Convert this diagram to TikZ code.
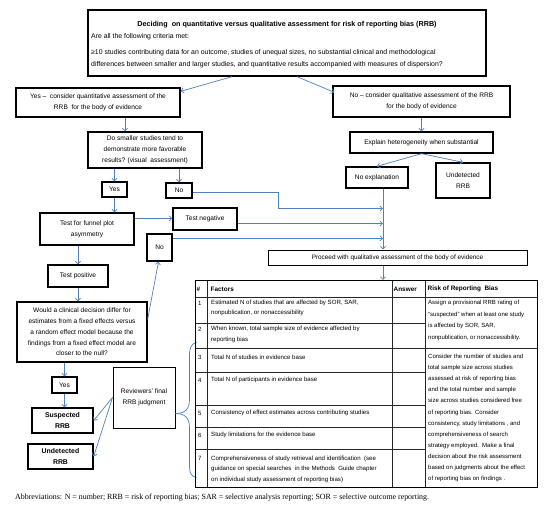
\documentclass[tikz,border=0pt]{standalone}
\usepackage{fontspec}
\setmainfont{Liberation Sans}
\newfontfamily\abbrfont{Liberation Serif}
\usetikzlibrary{arrows.meta,calc}
\definecolor{arrblue}{RGB}{79,129,189}
\begin{document}
\begin{tikzpicture}[x=1pt,y=-1pt,
  box/.style={draw=black,line width=1.3pt,fill=white,inner sep=1pt,align=center,
    font=\fontsize{6.6}{10.8}\selectfont},
  arr/.style={draw=arrblue,line width=0.7pt,-{Straight Barb[length=2.6pt,width=5pt]}},
  ln/.style={draw=arrblue,line width=0.7pt},
  touter/.style={draw=black,line width=0.9pt},
  tline/.style={draw=black!85,line width=0.6pt},
  ttext/.style={anchor=west,inner sep=0pt,align=left,font=\fontsize{6.1}{10.3}\selectfont},
  thead/.style={anchor=west,inner sep=0pt,font=\fontsize{6.4}{8}\selectfont\bfseries},
  plain/.style={anchor=west,inner sep=0pt,align=left,font=\fontsize{6.9}{12}\selectfont},
]
\useasboundingbox (0,0) rectangle (550,509);
\fill[white] (0,0) rectangle (550,509);

% ---------- top box ----------
\node[box,minimum width=398pt,minimum height=66pt] (top) at (287,43) {};
\node[inner sep=0pt,font=\fontsize{7.2}{8}\selectfont\bfseries] (toptitle) at (287,25)
  {Deciding\ \ on quantitative versus qualitative assessment for risk of reporting bias (RRB)};
\node[plain] (crit1) at (91,37) {Are all the following criteria met:};
\node[plain] (crit2) at (91,59) {≥10 studies contributing data for an outcome, studies of unequal sizes, no substantial clinical and methodological\\differences between smaller and larger studies, and quantitative results accompanied with measures of dispersion?};

% ---------- left branch ----------
\node[box,minimum width=164pt,minimum height=29pt] (yesq) at (98,102.5)
  {Yes --\ \ consider quantitative assessment of the\\RRB\ \ for the body of evidence};
\node[box,minimum width=114pt,minimum height=36pt] (q) at (145,150)
  {Do smaller studies tend to\\demonstrate more favorable\\results? (visual\ \ assessment)};
\node[box,minimum width=25pt,minimum height=15pt] (yes1) at (114.5,189.5) {Yes};
\node[box,minimum width=26pt,minimum height=15pt] (no1) at (179,190.5) {No};
\node[box,minimum width=94pt,minimum height=32pt] (funnel) at (87,229)
  {Test for funnel plot\\asymmetry};
\node[box,minimum width=64pt,minimum height=22pt] (testneg) at (205,219) {Test negative};
\node[box,minimum width=25pt,minimum height=27pt] (no2) at (159.5,247.5) {No};
\node[box,minimum width=60pt,minimum height=22pt] (testpos) at (78,276) {Test positive};
\node[box,minimum width=130pt,minimum height=60pt] (would) at (82,332)
  {Would a clinical decision differ for\\estimates from a fixed effects versus\\a random effect model because the\\findings from a fixed effect model are\\closer to the null?};
\node[box,minimum width=25pt,minimum height=16pt] (yes2) at (64.5,385) {Yes};
\node[box,minimum width=61pt,minimum height=25pt,font=\fontsize{6.9}{10.8}\selectfont\bfseries] (susp) at (62.5,420.5) {Suspected\\RRB};
\node[box,minimum width=65pt,minimum height=25pt,font=\fontsize{6.9}{10.8}\selectfont\bfseries] (undet) at (60.5,456.5) {Undetected\\RRB};
\node[box,line width=1pt,minimum width=62pt,minimum height=61pt] (rev) at (144,397.5) {Reviewers' final\\RRB judgment};

% ---------- right branch ----------
\node[box,minimum width=177pt,minimum height=31pt] (noq) at (421.5,101.5)
  {No -- consider qualitative assessment of the RRB\\for the body of evidence};
\node[box,minimum width=143pt,minimum height=21pt] (explain) at (421.5,142.5)
  {Explain heterogeneity when substantial};
\node[box,minimum width=62pt,minimum height=21pt] (noexpl) at (377,177.5) {No explanation};
\node[box,minimum width=54pt,minimum height=35pt] (undet2) at (463,180.5) {Undetected\\RRB};
\node[box,line width=1pt,minimum width=259pt,minimum height=15pt,font=\fontsize{6.4}{8}\selectfont] (proceed) at (397.5,257.5)
  {Proceed with qualitative assessment of the body of evidence};

\coordinate (vx) at (383,0);
\coordinate (ttop) at (383,280);

% ---------- connectors ----------
\draw[arr] ($(top.south)+(-55,0)$) -- ($(yesq.north east)+(0,4)$);
\draw[arr] ($(top.south)+(10,0)$) -- ($(noq.north west)+(2,7)$);
\draw[arr] ($(yesq.south)+(27,0)$) -- ($(q.north)+(-20,0)$);
\draw[arr] (q.south -| yes1.north) -- (yes1.north);
\draw[arr] (q.south -| no1.north) -- (no1.north);
\draw[arr] (yes1.south) -- (yes1.south |- funnel.north);
\draw[arr] ($(funnel.north east)+(0,6)$) -- (testneg.west |- {$(funnel.north east)+(0,6)$});
\draw[arr] (testpos.north |- funnel.south) -- (testpos.north);
\draw[arr] (testpos.south) -- (testpos.south |- would.north);
\draw[arr] ($(would.north east)+(0,18)$) -- ($(no2.south)+(-1,0)$);
\draw[arr] (yes2.north |- would.south) -- (yes2.north);
\draw[arr] (yes2.south) -- (yes2.south |- susp.north);
\draw[arr] (rev.west) -- (susp.east);
\draw[arr] (rev.west) -- (undet.east);

\draw[arr] (noq.south) -- (explain.north);
\draw[arr] (explain.south) -- (noexpl.north);
\draw[arr] (explain.south) -- (undet2.north);
\draw[arr] (noexpl.south -| vx) -- (proceed.north -| vx);
\draw[arr] (proceed.south -| vx) -- (ttop);

\draw[arr] ($(no1.east)+(0,2)$) -| ($(no1.east)+(86,18)$) -- (vx |- {$(no1.east)+(0,18)$});
\draw[arr] ($(testneg.east)+(0,4.5)$) -- (vx |- {$(testneg.east)+(0,4.5)$});
\draw[arr] ($(no2.north east)+(0,5)$) -- (vx |- {$(no2.north east)+(0,5)$});

% brace
\coordinate (btip) at ($(rev.south east)+(0,-15)$);
\draw[ln] (btip) .. controls ($(btip)+(9,0)$) and ($(btip)+(14,-4)$) .. ($(btip)+(14,-14)$)
  -- ($(btip)+(14,-58)$) .. controls ($(btip)+(14,-66)$) and ($(btip)+(16,-70)$) .. ($(btip)+(21,-71)$);
\draw[ln] (btip) .. controls ($(btip)+(9,0)$) and ($(btip)+(14,4)$) .. ($(btip)+(14,14)$)
  -- ($(btip)+(14,53)$) .. controls ($(btip)+(14,60)$) and ($(btip)+(16,63)$) .. ($(btip)+(21,64)$);

% ---------- table ----------
\draw[tline] (207,280) -- (207,487);
\draw[tline] (392,280) -- (392,487);
\draw[tline] (425,280) -- (425,487);
\draw[tline] (195,297) -- (537,297);
\draw[tline] (195,348) -- (537,348);
\foreach \yy in {323,372,405,427,449} \draw[tline] (195,\yy) -- (425,\yy);
\draw[touter] (195,280) rectangle (537,487);

\node[thead] (hnum) at (196.5,289) {\#};
\node[thead] (hfac) at (210.5,289) {Factors};
\node[thead] (hans) at (393.5,289) {Answer};
\node[thead] (hrisk) at (427.5,289) {Risk of Reporting\ \ Bias};

\foreach \n/\yy in {1/303,2/329,3/357,4/380,5/413,6/435,7/458}
  \node[ttext] (num\n) at (198,\yy) {\n};

\node[ttext] (f1) at (211,308.2) {Estimated N of studies that are affected by SOR, SAR,\\nonpublication, or nonaccessibility};
\node[ttext] (f2) at (211,334.3) {When known, total sample size of evidence affected by\\reporting bias};
\node[ttext] (f3) at (211,357) {Total N of studies in evidence base};
\node[ttext] (f4) at (211,380) {Total N of participants in evidence base};
\node[ttext] (f5) at (211,413) {Consistency of effect estimates across contributing studies};
\node[ttext] (f6) at (211,435) {Study limitations for the evidence base};
\node[ttext] (f7) at (211,469.3) {Comprehensiveness of study retrieval and identification\ \ (see\\guidance on special searches\ \ in the Methods\ \ Guide chapter\\on individual study assessment of reporting bias)};

\node[ttext,font=\fontsize{6.0}{11.6}\selectfont] (r1) at (428,320.5) {Assign a provisional RRB rating of\\``suspected'' when at least one study\\is affected by SOR, SAR,\\nonpublication, or nonaccessibility.};
\node[ttext,font=\fontsize{6.0}{11.1}\selectfont] (r2) at (428,418) {Consider the number of studies and\\total sample size across studies\\assessed at risk of reporting bias\\and the total number and sample\\size across studies considered free\\of reporting bias. Consider\\consistency, study limitations , and\\comprehensiveness of search\\strategy employed.\ \ Make a final\\decision about the risk assessment\\based on judgments about the effect\\of reporting bias on findings .};

% ---------- abbreviations ----------
\node[anchor=west,inner sep=0pt,font=\abbrfont\fontsize{7.9}{9}\selectfont] (abbr) at (15,497.5)
  {Abbreviations: N = number; RRB = risk of reporting bias; SAR = selective analysis reporting; SOR = selective outcome reporting.};
\end{tikzpicture}
\end{document}
